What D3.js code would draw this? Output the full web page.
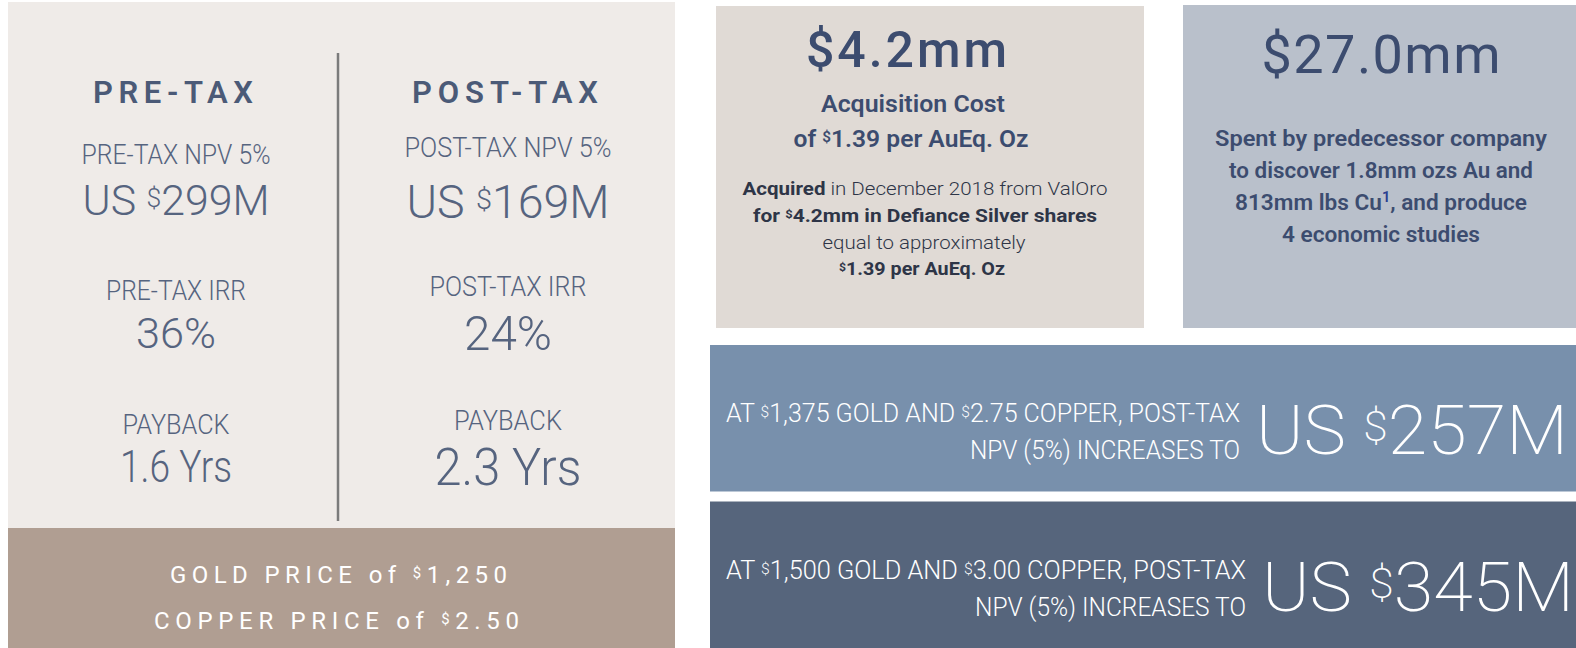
<!DOCTYPE html>
<html>
<head>
<meta charset="utf-8">
<script src="https://cdn.jsdelivr.net/npm/d3@7"></script>
<style>
  body { margin: 0; background: #fff; }
  svg { display: block; }
</style>
</head>
<body>
<div id="viz"></div>
<script>
// values
const columns = ['PRE-TAX', 'POST-TAX']
const npvLabels = ['PRE-TAX NPV 5%', 'POST-TAX NPV 5%']
const npvValues = [299, 169]
const irrLabels = ['PRE-TAX IRR', 'POST-TAX IRR']
const irrValues = [36, 24]
const paybackYears = [1.6, 2.3]
const basePriceLabels = ['GOLD PRICE of', 'COPPER PRICE of']
const basePrices = ['1,250', '2.50']
const scenarioGold = ['1,375', '1,500']
const scenarioCopper = ['2.75', '3.00']
const scenarioNpv = [257, 345]
const acquisitionCost = 4.2
const costPerOz = 1.39
const predecessorSpend = 27.0

const width = 1576
const height = 648
const FONT = 'Roboto, "Open Sans", sans-serif'

const svg = d3.select('#viz')
  .append('svg')
  .attr('width', width)
  .attr('height', height)

/**
 * Appends one line of text made of parts (plain strings or {t, sup, bold}).
 */
function line (g, o, parts) {
  const t = g.append('text')
    .attr('x', o.x)
    .attr('y', o.y)
    .attr('text-anchor', o.anchor || 'middle')
    .attr('font-family', FONT)
    .attr('font-size', o.size)
    .attr('font-weight', o.weight || 400)
    .attr('fill', o.fill)
  if (o.spacing) t.attr('letter-spacing', o.spacing)
  if (o.w) t.attr('textLength', o.w).attr('lengthAdjust', o.adjust || 'spacingAndGlyphs')
  parts.forEach(p => {
    if (typeof p === 'string') p = { t: p }
    const s = t.append('tspan').text(p.t)
    if (p.sup) s.attr('font-size', o.size * 0.62).attr('baseline-shift', o.size * 0.19)
    if (p.bold) s.attr('font-weight', p.bold)
    if (p.sub) s.attr('font-size', o.size * 0.65).attr('baseline-shift', o.size * 0.35).attr('fill', '#2b3f8f')
  })
  return t
}

// ---------- left panel: pre / post tax ----------
const left = svg.append('g')
left.append('rect').attr('x', 8).attr('y', 2).attr('width', 667).attr('height', 526).attr('fill', '#efebe8')
left.append('rect').attr('x', 8).attr('y', 528).attr('width', 667).attr('height', 120).attr('fill', '#b09e92')
left.append('line')
  .attr('x1', 338).attr('x2', 338).attr('y1', 53).attr('y2', 521)
  .attr('stroke', '#7b7b7b').attr('stroke-width', 2.5)

const x = d3.scalePoint().domain(columns).range([176, 508])

const layout = [
  { title: 103, lab: 164, val: 215, irrLab: 300, irrVal: 348, payLab: 434, payVal: 482,
    valSize: 42, irrSize: 43, paySize: 45,
    w: { title: 166, lab: 189, val: 187, irrLab: 140, irrVal: 80, payLab: 107, payVal: 112 } },
  { title: 103, lab: 157, val: 218, irrLab: 296, irrVal: 350, payLab: 430, payVal: 485,
    valSize: 46, irrSize: 49, paySize: 52,
    w: { title: 192, lab: 207, val: 203, irrLab: 157, irrVal: 88, payLab: 108, payVal: 147 } }
]
const ink = '#56647f'

columns.forEach((c, i) => {
  const L = layout[i]
  const cx = x(c)
  line(left, { x: cx, y: L.title, size: 31, weight: 600, fill: '#4b5a77', spacing: 6, w: L.w.title, adjust: 'spacing' }, [c])
  line(left, { x: cx, y: L.lab, size: 28, weight: 300, fill: ink, w: L.w.lab }, [npvLabels[i]])
  line(left, { x: cx, y: L.val, size: L.valSize, weight: 300, fill: ink, w: L.w.val }, ['US ', { t: '$', sup: true }, npvValues[i] + 'M'])
  line(left, { x: cx, y: L.irrLab, size: 28, weight: 300, fill: ink, w: L.w.irrLab }, [irrLabels[i]])
  line(left, { x: cx, y: L.irrVal, size: L.irrSize, weight: 300, fill: ink, w: L.w.irrVal }, [irrValues[i] + '%'])
  line(left, { x: cx, y: L.payLab, size: 28, weight: 300, fill: ink, w: L.w.payLab }, ['PAYBACK'])
  line(left, { x: cx, y: L.payVal, size: L.paySize, weight: 300, fill: ink, w: L.w.payVal }, [d3.format('.1f')(paybackYears[i]) + ' Yrs'])
})

const priceY = [583, 629]
const priceX = [341, 339]
const priceW = [342, 370]
basePriceLabels.forEach((lab, i) => {
  line(left, { x: priceX[i], y: priceY[i], size: 24, weight: 400, fill: '#ffffff', spacing: 5, w: priceW[i], adjust: 'spacing' },
    [lab + ' ', { t: '$', sup: true }, basePrices[i]])
})

// ---------- acquisition box ----------
const acq = svg.append('g')
acq.append('rect').attr('x', 716).attr('y', 6).attr('width', 428).attr('height', 322).attr('fill', '#e0dad5')
const navy = '#3c4c6f'
const dark = '#2e3547'
line(acq, { x: 910, y: 67, size: 50, weight: 500, fill: navy, spacing: 7, w: 208, adjust: 'spacing' }, ['$' + acquisitionCost.toFixed(1) + 'mm'])
line(acq, { x: 913, y: 112, size: 24, weight: 600, fill: navy, w: 184 }, ['Acquisition Cost'])
line(acq, { x: 911, y: 147, size: 24, weight: 600, fill: navy, w: 235 }, ['of ', { t: '$', sup: true }, costPerOz + ' per AuEq. Oz'])
line(acq, { x: 925, y: 195, size: 19, weight: 300, fill: dark, w: 365 }, [{ t: 'Acquired', bold: 700 }, ' in December 2018 from ValOro'])
line(acq, { x: 925, y: 222, size: 19, weight: 700, fill: dark, w: 344 }, ['for ', { t: '$', sup: true }, acquisitionCost + 'mm in Defiance Silver shares'])
line(acq, { x: 924, y: 249, size: 19, weight: 300, fill: dark, w: 203 }, ['equal to approximately'])
line(acq, { x: 922, y: 275, size: 19, weight: 700, fill: dark, w: 166 }, [{ t: '$', sup: true }, costPerOz + ' per AuEq. Oz'])

// ---------- predecessor spend box ----------
const pre = svg.append('g')
pre.append('rect').attr('x', 1183).attr('y', 5).attr('width', 393).attr('height', 323).attr('fill', '#b9c0cb')
line(pre, { x: 1385, y: 73, size: 54, weight: 400, fill: navy, spacing: 8, w: 247, adjust: 'spacing' }, ['$' + predecessorSpend.toFixed(1) + 'mm'])
const spentLines = [
  ['Spent by predecessor company'],
  ['to discover 1.8mm ozs Au and'],
  ['813mm lbs Cu', { t: '1', sub: true }, ', and produce'],
  ['4 economic studies']
]
const spentY = [146, 178, 210, 242]
const spentW = [332, 304, 292, 198]
spentLines.forEach((p, i) => {
  line(pre, { x: 1381, y: spentY[i], size: 22, weight: 600, fill: navy, w: spentW[i] }, p)
})

// ---------- price scenario bars ----------
const yBar = d3.scaleBand().domain(d3.range(scenarioNpv.length)).range([345, 648]).paddingInner(0.064)
const barFill = ['#7890ac', '#56657c']
const line1W = [514, 520]
const line2W = [270, 271]
const rightX = [1240, 1246]
const valX = [1256, 1262]

const bars = svg.append('g')
scenarioNpv.forEach((v, i) => {
  const top = yBar(i)
  bars.append('rect').attr('x', 710).attr('y', top).attr('width', width - 710).attr('height', yBar.bandwidth()).attr('fill', barFill[i])
  line(bars, { x: rightX[i], y: top + 77, size: 25, weight: 300, fill: '#fff', anchor: 'end', w: line1W[i] },
    ['AT ', { t: '$', sup: true }, scenarioGold[i] + ' GOLD AND ', { t: '$', sup: true }, scenarioCopper[i] + ' COPPER, POST-TAX'])
  line(bars, { x: rightX[i], y: top + 114, size: 25, weight: 300, fill: '#fff', anchor: 'end', w: line2W[i] },
    ['NPV (5%) INCREASES TO'])
  line(bars, { x: valX[i], y: top + 109, size: 68, weight: 200, fill: '#fff', anchor: 'start', w: 312 },
    ['US ', { t: '$', sup: true }, v + 'M'])
})
</script>
</body>
</html>
